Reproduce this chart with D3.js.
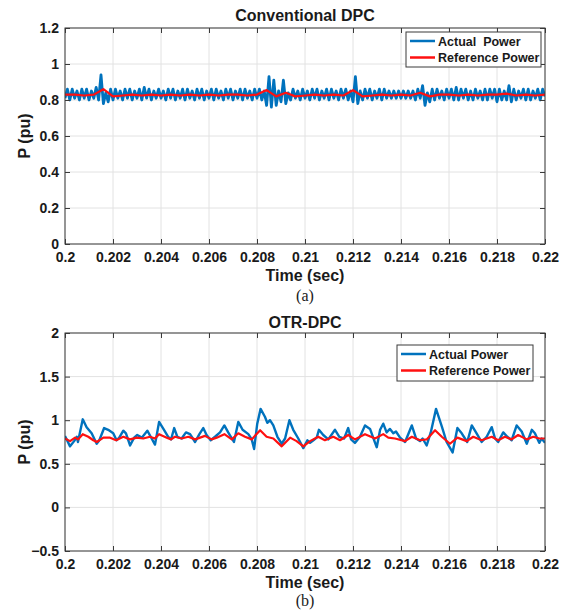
<!DOCTYPE html>
<html>
<head>
<meta charset="utf-8">
<script src="https://cdn.jsdelivr.net/npm/d3@7"></script>
<style>
body { margin: 0; background: #fff; }
svg text { font-family: "Liberation Sans", Arial, sans-serif; font-weight: bold; fill: #1a1a1a; }
</style>
</head>
<body>
<svg id="chart"></svg>
<script>
'use strict';

// --- data ---
var xTicks = [0.2, 0.202, 0.204, 0.206, 0.208, 0.21, 0.212, 0.214, 0.216, 0.218, 0.22];
var topYTicks = [0, 0.2, 0.4, 0.6, 0.8, 1, 1.2];
var botYTicks = [-0.5, 0, 0.5, 1, 1.5, 2];
var seriesNames = ["Actual  Power", "Reference Power"];
var seriesNamesB = ["Actual Power", "Reference Power"];

// (a) conventional DPC, sampled every 0.1 ms from 0.2 s
var topStart = 0.2;
var topActualStep = 0.0001;
var topActualP = [
  0.81, 0.86, 0.80, 0.86, 0.81, 0.85, 0.80, 0.86, 0.81, 0.86,
  0.80, 0.85, 0.81, 0.87, 0.80, 0.94, 0.78, 0.84, 0.79, 0.86,
  0.80, 0.86, 0.81, 0.85, 0.80, 0.86, 0.81, 0.86, 0.80, 0.85,
  0.81, 0.86, 0.80, 0.87, 0.81, 0.86, 0.80, 0.85, 0.81, 0.86,
  0.81, 0.85, 0.80, 0.86, 0.81, 0.86, 0.80, 0.85, 0.81, 0.86,
  0.80, 0.86, 0.81, 0.85, 0.80, 0.86, 0.81, 0.86, 0.80, 0.85,
  0.81, 0.86, 0.80, 0.86, 0.81, 0.85, 0.80, 0.86, 0.81, 0.86,
  0.80, 0.85, 0.81, 0.86, 0.80, 0.86, 0.81, 0.85, 0.80, 0.86,
  0.81, 0.86, 0.80, 0.85, 0.77, 0.93, 0.76, 0.91, 0.77, 0.85,
  0.79, 0.91, 0.78, 0.84, 0.80, 0.86, 0.81, 0.85, 0.80, 0.86,
  0.81, 0.85, 0.80, 0.86, 0.81, 0.86, 0.80, 0.85, 0.81, 0.86,
  0.80, 0.86, 0.81, 0.85, 0.80, 0.86, 0.81, 0.86, 0.80, 0.85,
  0.79, 0.93, 0.78, 0.85, 0.80, 0.86, 0.81, 0.86, 0.80, 0.85,
  0.81, 0.86, 0.80, 0.86, 0.81, 0.85, 0.81, 0.85, 0.81, 0.85,
  0.81, 0.85, 0.81, 0.85, 0.81, 0.85, 0.80, 0.86, 0.81, 0.88,
  0.77, 0.84, 0.79, 0.86, 0.80, 0.86, 0.81, 0.85, 0.80, 0.86,
  0.81, 0.86, 0.80, 0.87, 0.80, 0.86, 0.81, 0.86, 0.80, 0.85,
  0.80, 0.86, 0.81, 0.85, 0.80, 0.86, 0.80, 0.86, 0.81, 0.86,
  0.79, 0.86, 0.80, 0.85, 0.80, 0.88, 0.79, 0.86, 0.80, 0.85,
  0.81, 0.86, 0.80, 0.86, 0.80, 0.85, 0.81, 0.86, 0.80, 0.86,
  0.82
];
var topRefStep = 0.0004;
var topRefP = [
  0.83, 0.83, 0.825, 0.83, 0.86, 0.82, 0.825, 0.83, 0.825, 0.83,
  0.825, 0.83, 0.825, 0.83, 0.825, 0.83, 0.825, 0.83, 0.83, 0.825,
  0.83, 0.855, 0.82, 0.84, 0.82, 0.825, 0.83, 0.825, 0.83, 0.825,
  0.855, 0.82, 0.825, 0.83, 0.825, 0.83, 0.825, 0.84, 0.82, 0.83,
  0.83, 0.825, 0.83, 0.825, 0.83, 0.83, 0.835, 0.825, 0.83, 0.825,
  0.83
];

// (b) OTR-DPC, turning points of the traces
var botActualT = [
  0.2, 0.20021, 0.20038, 0.20049, 0.20054, 0.20074, 0.20090, 0.20111, 0.20132, 0.20143,
  0.20163, 0.20180, 0.20201, 0.20215, 0.20226, 0.20243, 0.20254, 0.20271, 0.20288, 0.20301,
  0.20320, 0.20343, 0.20357, 0.20375, 0.20392, 0.20410, 0.20430, 0.20442, 0.20455, 0.20468,
  0.20486, 0.20504, 0.20521, 0.20542, 0.20560, 0.20576, 0.20590, 0.20607, 0.20625, 0.20646,
  0.20664, 0.20680, 0.20704, 0.20722, 0.20740, 0.20764, 0.20778, 0.20788, 0.20801, 0.20815,
  0.20833, 0.20843, 0.20854, 0.20868, 0.20885, 0.20903, 0.20917, 0.20935, 0.20951, 0.20972,
  0.20993, 0.21010, 0.21021, 0.21035, 0.21049, 0.21058, 0.21076, 0.21097, 0.21125, 0.21143,
  0.21163, 0.21180, 0.21192, 0.21208, 0.21229, 0.21250, 0.21271, 0.21292, 0.21299, 0.21313,
  0.21326, 0.21340, 0.21354, 0.21368, 0.21379, 0.21396, 0.21417, 0.21445, 0.21463, 0.21479,
  0.21490, 0.21507, 0.21524, 0.21546, 0.21570, 0.21590, 0.21615, 0.21635, 0.21653, 0.21676,
  0.21695, 0.21715, 0.21736, 0.21757, 0.21778, 0.21792, 0.21805, 0.21826, 0.21843, 0.21861,
  0.21882, 0.21903, 0.21924, 0.21945, 0.21958, 0.21976, 0.21986, 0.22
];
var botActualP = [
  0.82, 0.70, 0.76, 0.81, 0.75, 1.01, 0.92, 0.85, 0.73, 0.77,
  0.91, 0.89, 0.85, 0.77, 0.80, 0.88, 0.85, 0.71, 0.80, 0.83,
  0.80, 0.88, 0.81, 0.72, 0.98, 0.90, 0.81, 0.78, 0.91, 0.81,
  0.79, 0.86, 0.84, 0.75, 0.84, 0.91, 0.83, 0.77, 0.81, 0.86,
  0.94, 0.86, 0.75, 0.98, 0.89, 0.84, 0.78, 0.67, 0.96, 1.13,
  1.04, 0.97, 1.00, 0.94, 0.81, 0.73, 0.79, 1.00, 0.89, 0.79,
  0.68, 0.77, 0.74, 0.77, 0.80, 0.89, 0.83, 0.78, 0.89, 0.81,
  0.79, 0.91, 0.78, 0.74, 0.81, 0.94, 0.90, 0.74, 0.69, 0.89,
  0.96, 0.86, 0.90, 0.85, 0.87, 0.80, 0.75, 0.94, 0.79, 0.76,
  0.79, 0.71, 0.86, 1.13, 0.93, 0.75, 0.63, 0.91, 0.85, 0.75,
  0.94, 0.85, 0.75, 0.81, 0.92, 0.79, 0.75, 0.86, 0.81, 0.77,
  0.94, 0.87, 0.73, 0.89, 0.85, 0.74, 0.79, 0.74
];
var botRefT = [
  0.2, 0.20021, 0.20042, 0.20054, 0.20074, 0.20097, 0.20118, 0.20132, 0.20160, 0.20188,
  0.20213, 0.20243, 0.20271, 0.20299, 0.20326, 0.20354, 0.20375, 0.20392, 0.20424, 0.20442,
  0.20458, 0.20486, 0.20514, 0.20542, 0.20563, 0.20583, 0.20611, 0.20632, 0.20664, 0.20695,
  0.20722, 0.20750, 0.20778, 0.20813, 0.20840, 0.20868, 0.20903, 0.20938, 0.20965, 0.20993,
  0.21021, 0.21055, 0.21083, 0.21118, 0.21146, 0.21180, 0.21208, 0.21250, 0.21292, 0.21326,
  0.21347, 0.21375, 0.21417, 0.21445, 0.21479, 0.21507, 0.21542, 0.21570, 0.21604, 0.21635,
  0.21674, 0.21701, 0.21736, 0.21778, 0.21805, 0.21833, 0.21861, 0.21888, 0.21924, 0.21951,
  0.21976, 0.22
];
var botRefP = [
  0.79, 0.76, 0.80, 0.78, 0.84, 0.81, 0.77, 0.75, 0.80, 0.80,
  0.77, 0.81, 0.78, 0.80, 0.79, 0.81, 0.79, 0.84, 0.80, 0.78,
  0.81, 0.79, 0.81, 0.78, 0.80, 0.82, 0.78, 0.80, 0.84, 0.78,
  0.85, 0.81, 0.78, 0.885, 0.81, 0.79, 0.70, 0.80, 0.76, 0.70,
  0.76, 0.81, 0.77, 0.81, 0.77, 0.83, 0.78, 0.84, 0.79, 0.84,
  0.80, 0.79, 0.76, 0.81, 0.77, 0.78, 0.885, 0.81, 0.73, 0.80,
  0.76, 0.81, 0.77, 0.81, 0.77, 0.81, 0.78, 0.83, 0.78, 0.81,
  0.79, 0.79
];

var width = 570, height = 611;
var blue = "#0072bd", red = "#ff1010";

var svg = d3.select('#chart')
  .attr('width', width)
  .attr('height', height);

function sampled(start, step, vals) {
  return vals.map(function (v, i) { return [start + i * step, v]; });
}
function paired(ts, vals) {
  return ts.map(function (t, i) { return [t, vals[i]]; });
}

function drawPanel(p) {
  var g = svg.append('g');
  var x = d3.scaleLinear().domain([0.2, 0.22]).range([p.left, p.right]);
  var y = d3.scaleLinear().domain(p.yDomain).range([p.bottom, p.top]);

  // grid
  g.append('g').selectAll('line.vx').data(xTicks).enter().append('line')
    .attr('x1', function (d) { return x(d); }).attr('x2', function (d) { return x(d); })
    .attr('y1', p.top).attr('y2', p.bottom)
    .style('stroke', '#e2e2e2').style('stroke-width', 1);
  g.append('g').selectAll('line.hy').data(p.yTicks).enter().append('line')
    .attr('y1', function (d) { return y(d); }).attr('y2', function (d) { return y(d); })
    .attr('x1', p.left).attr('x2', p.right)
    .style('stroke', '#e2e2e2').style('stroke-width', 1);

  // traces
  var clipId = 'clip' + p.id;
  svg.append('clipPath').attr('id', clipId).append('rect')
    .attr('x', p.left).attr('y', p.top)
    .attr('width', p.right - p.left).attr('height', p.bottom - p.top);
  var line = d3.line().x(function (d) { return x(d[0]); }).y(function (d) { return y(d[1]); });
  var traces = g.append('g').attr('clip-path', 'url(#' + clipId + ')');
  traces.append('path').attr('d', line(p.actual))
    .style('fill', 'none').style('stroke', blue).style('stroke-width', p.blueWidth)
    .style('stroke-linejoin', 'round');
  traces.append('path').attr('d', line(p.reference))
    .style('fill', 'none').style('stroke', red).style('stroke-width', 2.2)
    .style('stroke-linejoin', 'round');

  // axes (MATLAB style: ticks inside, on all four sides)
  var fmt = d3.format('~g');
  var ax = function (axis) {
    return function (sel) {
      sel.call(axis);
      sel.select('.domain').remove();
      sel.selectAll('.tick line').style('stroke', '#3a3a3a');
      sel.selectAll('text').style('font-size', '14px')
        .style('font-family', '"Liberation Sans", Arial, sans-serif')
        .style('font-weight', 'bold').style('fill', '#1a1a1a');
    };
  };
  g.append('g').attr('transform', 'translate(0,' + p.bottom + ')')
    .call(ax(d3.axisBottom(x).tickValues(xTicks).tickFormat(fmt).tickSizeInner(-5).tickSizeOuter(0).tickPadding(8)));
  g.append('g').attr('transform', 'translate(0,' + p.top + ')')
    .call(ax(d3.axisTop(x).tickValues(xTicks).tickFormat('').tickSizeInner(-5).tickSizeOuter(0)));
  g.append('g').attr('transform', 'translate(' + p.left + ',0)')
    .call(ax(d3.axisLeft(y).tickValues(p.yTicks).tickFormat(fmt).tickSizeInner(-5).tickSizeOuter(0).tickPadding(6)));
  g.append('g').attr('transform', 'translate(' + p.right + ',0)')
    .call(ax(d3.axisRight(y).tickValues(p.yTicks).tickFormat('').tickSizeInner(-5).tickSizeOuter(0)));

  g.append('rect')
    .attr('x', p.left).attr('y', p.top)
    .attr('width', p.right - p.left).attr('height', p.bottom - p.top)
    .style('fill', 'none').style('stroke', '#3a3a3a').style('stroke-width', 1);

  // texts
  g.append('text')
    .attr('x', (p.left + p.right) / 2).attr('y', p.titleY)
    .attr('text-anchor', 'middle').style('font-size', '16px')
    .text(p.title);
  g.append('text')
    .attr('x', (p.left + p.right) / 2).attr('y', p.bottom + 37)
    .attr('text-anchor', 'middle').style('font-size', '16px')
    .text('Time (sec)');
  g.append('text')
    .attr('transform', 'translate(30,' + (p.top + p.bottom) / 2 + ') rotate(-90)')
    .attr('text-anchor', 'middle').style('font-size', '16px')
    .text('P (pu)');
  g.append('text')
    .attr('x', (p.left + p.right) / 2).attr('y', p.bottom + p.captionDy)
    .attr('text-anchor', 'middle')
    .style('font-family', '"Liberation Serif", "Times New Roman", serif')
    .style('font-weight', 'normal').style('font-size', '16px')
    .text(p.caption);

  // legend
  var lg = g.append('g');
  lg.append('rect')
    .attr('x', p.legend.x).attr('y', p.legend.y)
    .attr('width', p.legend.w).attr('height', p.legend.h)
    .style('fill', '#fff').style('stroke', '#3a3a3a').style('stroke-width', 1);
  [blue, red].forEach(function (c, i) {
    var ly = p.legend.y + 9 + i * 16.5;
    lg.append('line')
      .attr('x1', p.legend.x + 4).attr('x2', p.legend.x + 29)
      .attr('y1', ly).attr('y2', ly)
      .style('stroke', c).style('stroke-width', 2.5);
    lg.append('text')
      .attr('x', p.legend.x + 32).attr('y', ly + 4.5)
      .style('font-size', '12.5px').style('white-space', 'pre')
      .text(p.names[i]);
  });
}

drawPanel({
  id: 'a', left: 65, right: 545, top: 28, bottom: 244,
  yDomain: [0, 1.2], yTicks: topYTicks,
  title: 'Conventional DPC', titleY: 21, caption: '(a)', captionDy: 57,
  actual: sampled(topStart, topActualStep, topActualP),
  reference: sampled(topStart, topRefStep, topRefP),
  blueWidth: 2.8,
  names: seriesNames,
  legend: { x: 406, y: 32, w: 135, h: 35 }
});

drawPanel({
  id: 'b', left: 65, right: 545, top: 333, bottom: 551,
  yDomain: [-0.5, 2], yTicks: botYTicks,
  title: 'OTR-DPC', titleY: 328, caption: '(b)', captionDy: 55,
  actual: paired(botActualT, botActualP),
  reference: paired(botRefT, botRefP),
  blueWidth: 2.4,
  names: seriesNamesB,
  legend: { x: 397, y: 345, w: 136, h: 36 }
});
</script>
</body>
</html>
